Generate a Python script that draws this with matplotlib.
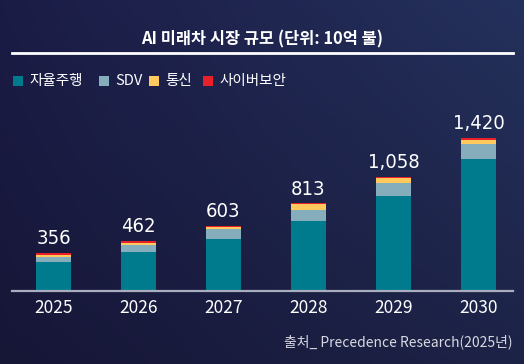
import numpy as np
import matplotlib
matplotlib.use('Agg')
import matplotlib.pyplot as plt
from matplotlib.colors import to_rgb
from matplotlib.lines import Line2D
from matplotlib.patches import Rectangle

plt.rcParams['font.family'] = ['Noto Sans CJK KR', 'DejaVu Sans']

years = ['2025', '2026', '2027', '2028', '2029', '2030']
totals = [356, 462, 603, 813, 1058, 1420]
autonomous = [265, 361, 483, 647, 882, 1225]
sdv = [55, 65, 93, 102, 121, 139]
telecom = [18, 18, 14, 55, 46, 37]
security = [18, 18, 13, 9, 9, 19]

series = ['자율주행', 'SDV', '통신', '사이버보안']
colors = ['#007b8e', '#85adbb', '#ffc95e', '#e8202a']

W, H = 524, 364
fig = plt.figure(figsize=(W / 100, H / 100), dpi=100)

# background gradient (4 corners)
bg = fig.add_axes([0, 0, 1, 1], zorder=-10)
tl, tr = np.array(to_rgb('#1b1c46')), np.array(to_rgb('#24315c'))
bl, br = np.array(to_rgb('#161637')), np.array(to_rgb('#1d2347'))
u = np.linspace(0, 1, 200)[None, :, None]
v = np.linspace(0, 1, 140)[:, None, None]
img = (1 - v) * ((1 - u) * tl + u * tr) + v * ((1 - u) * bl + u * br)
bg.imshow(img, aspect='auto', extent=[0, 1, 0, 1])
bg.axis('off')

# plot area
left, right, base, top = 12, 513, 291, 60
ax = fig.add_axes([left / W, 1 - base / H, (right - left) / W, (base - top) / H])
ax.set_facecolor('none')
x = np.arange(len(years))
ax.set_xlim(-0.488, 5.406)
ax.set_ylim(0, 1420 * (base - top) / 153)

bottom = np.zeros(len(years))
for vals, c in zip([autonomous, sdv, telecom, security], colors):
    ax.bar(x, vals, 0.41, bottom=bottom, color=c, linewidth=0)
    bottom += np.array(vals)

for xi, t in zip(x, totals):
    ax.annotate(f'{t:,}', (xi, t), xytext=(0, 3.5), textcoords='offset points',
                ha='center', va='bottom', color='white', fontsize=14.5,
                family=['DejaVu Sans'], fontstretch='condensed')

for s in ['top', 'left', 'right']:
    ax.spines[s].set_visible(False)
ax.spines['bottom'].set_color('#aaadbd')
ax.spines['bottom'].set_linewidth(1.6)
ax.set_yticks([])
ax.set_xticks(x)
ax.set_xticklabels(years, color='white', fontsize=12.5)
ax.tick_params(axis='x', length=0, pad=6)

# title and rule
fig.text(262 / W, 1 - 39 / H, 'AI 미래차 시장 규모 (단위: 10억 불)', ha='center', va='center',
         color='white', fontsize=11.8, fontweight='bold')
fig.add_artist(Line2D([12 / W, 513 / W], [1 - 53 / H, 1 - 53 / H], color='white', lw=2))

# legend
lx = [13, 99, 149, 203]
for px, name, c in zip(lx, series, colors):
    fig.add_artist(Rectangle((px / W, 1 - 86 / H), 10 / W, 10 / H, color=c, lw=0,
                             transform=fig.transFigure))
    fig.text((px + 16) / W, 1 - 81 / H, name, ha='left', va='center', color='white', fontsize=10.5)

fig.text(512 / W, 1 - 342 / H, '출처_ Precedence Research(2025년)', ha='right', va='center',
         color='#d8d9e2', fontsize=10)

fig.savefig('out.png', dpi=100)
